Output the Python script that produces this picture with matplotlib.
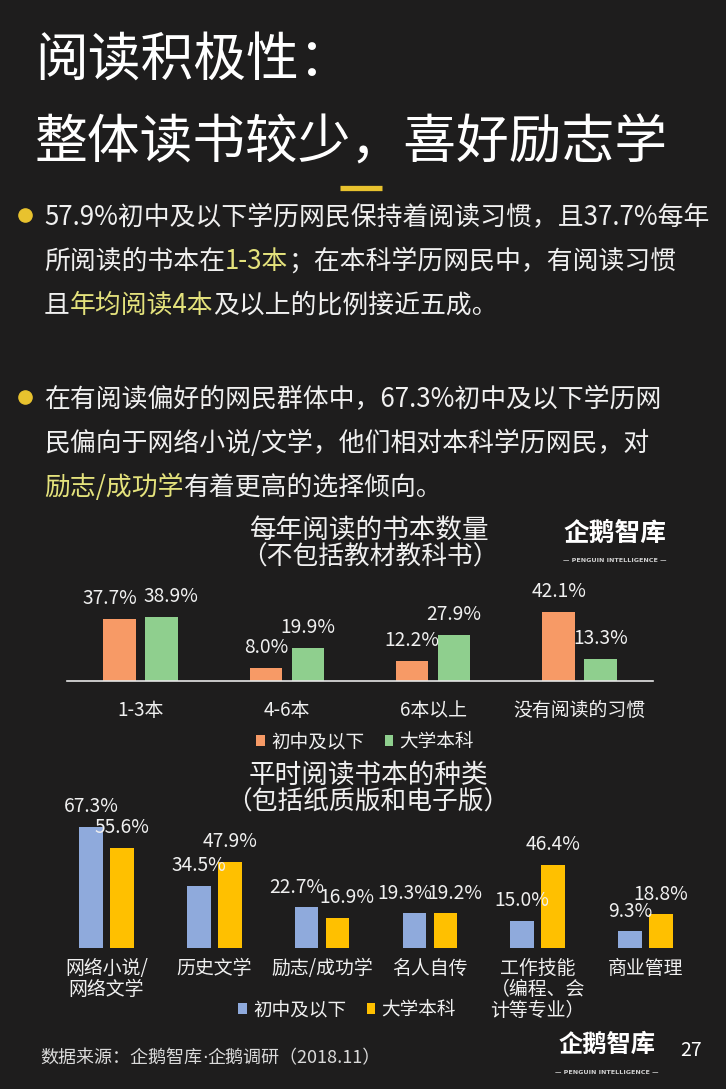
import matplotlib
matplotlib.use("Agg")
import matplotlib.pyplot as plt
from matplotlib.lines import Line2D
import numpy as np

plt.rcParams["font.family"] = ["Noto Sans CJK SC", "DejaVu Sans"]

W, H = 726, 1089
BG = "#1e1d1d"
WHITE = "#f0f0f0"
SOFT = "#dadada"
HILITE = "#e4e27c"
GOLD = "#e8c22e"
ORANGE = "#f79a66"
GREEN = "#8fcf8e"
BLUE = "#8faadc"
YELLOW = "#ffc000"

# --- chart 1: books read per year (excluding textbooks) ---
count_cats = ["1-3本", "4-6本", "6本以上", "没有阅读的习惯"]
count_junior = [37.7, 8.0, 12.2, 42.1]
count_college = [38.9, 19.9, 27.9, 13.3]

# --- chart 2: kinds of books read (paper + e-book) ---
genre_cats = ["网络小说/\n网络文学", "历史文学", "励志/成功学", "名人自传",
              "工作技能\n（编程、会\n计等专业）", "商业管理"]
genre_junior = [67.3, 34.5, 22.7, 19.3, 15.0, 9.3]
genre_college = [55.6, 47.9, 16.9, 19.2, 46.4, 18.8]

series_names = ["初中及以下", "大学本科"]

title_lines = ["阅读积极性：", "整体读书较少，喜好励志学"]
bullet1 = [
    [("57.9%初中及以下学历网民保持着阅读习惯，且37.7%每年", WHITE)],
    [("所阅读的书本在", WHITE), ("1-3本", HILITE), ("；在本科学历网民中，有阅读习惯", WHITE)],
    [("且", WHITE), ("年均阅读4本", HILITE), ("及以上的比例接近五成。", WHITE)],
]
bullet2 = [
    [("在有阅读偏好的网民群体中，67.3%初中及以下学历网", WHITE)],
    [("民偏向于网络小说/文学，他们相对本科学历网民，对", WHITE)],
    [("励志/成功学", HILITE), ("有着更高的选择倾向。", WHITE)],
]
source = [("数据来源：企鹅智库", None), ("·", "DejaVu Sans"), ("企鹅调研（2018.11）", None)]


def fx(x):
    return x / W


def fy(y):
    return 1 - y / H


def add_axes(left, right, top, bottom):
    return fig.add_axes([fx(left), fy(bottom), (right - left) / W, (bottom - top) / H])


def draw_runs(x, y, runs, size, family=None):
    # lay coloured pieces of one line side by side
    r = fig.canvas.get_renderer()
    for txt, col in runs:
        kw = {"family": family} if family else {}
        t = fig.text(fx(x), fy(y), txt, color=col, fontsize=size, ha="left", va="center", **kw)
        x += t.get_window_extent(r).width


def grouped_bars(ax, cats, junior, college, colors, width, dx, px_per_unit, nudge, size):
    x = np.arange(len(cats))
    b1 = ax.bar(x - dx, junior, width, color=colors[0], label=series_names[0])
    b2 = ax.bar(x + dx, college, width, color=colors[1], label=series_names[1])
    for xi, a, b in zip(x, junior, college):
        # push the two labels apart when they would sit at the same height
        n = nudge if abs(a - b) * px_per_unit < 16 else 0
        for val, sx, sgn in ((a, xi - dx, -1), (b, xi + dx, 1)):
            ax.annotate(f"{val:.1f}%", (sx, val), xytext=(sgn * n, 14.5),
                        textcoords="offset points", ha="center", va="center",
                        color=WHITE, fontsize=size, fontweight="light")
    ax.set_xlim(-0.5, len(cats) - 0.5)
    ax.set_facecolor("none")
    ax.set_yticks([])
    for s in ax.spines.values():
        s.set_visible(False)
    return b1, b2


fig = plt.figure(figsize=(W / 100, H / 100), dpi=100)
fig.patch.set_facecolor(BG)

# headline
fig.text(fx(35), fy(61), title_lines[0], color="white", fontsize=38, ha="left", va="center",
         fontweight="light")
fig.text(fx(35), fy(143), title_lines[1], color="white", fontsize=38, ha="left", va="center",
         fontweight="light")
fig.add_artist(Line2D([fx(340), fx(382)], [fy(188), fy(188)], color=GOLD, lw=3.8,
                      solid_capstyle="butt", transform=fig.transFigure))

# bullet paragraphs
for lines, y0 in ((bullet1, 218), (bullet2, 400)):
    fig.add_artist(Line2D([fx(25)], [fy(y0 - 3)], marker="o", ms=9.5, color=GOLD, lw=0,
                          transform=fig.transFigure))
    for i, runs in enumerate(lines):
        draw_runs(44, y0 + i * 43.5, runs, 18.6)

# chart 1
ax1 = add_axes(67.3, 652.7, 570, 680.7)
ax1.set_ylim(0, (680.7 - 570) / 1.637)
b1, b2 = grouped_bars(ax1, count_cats, count_junior, count_college, (ORANGE, GREEN),
                      0.222, 0.143, 1.637, 7, 13.8)
ax1.spines["bottom"].set_visible(True)
ax1.spines["bottom"].set_color("#e6e6e6")
ax1.spines["bottom"].set_linewidth(1.2)
ax1.set_xticks(np.arange(len(count_cats)), count_cats)
ax1.tick_params(axis="x", length=0, pad=14, labelsize=13.6, labelcolor=WHITE)
ax1.legend(handles=[b1, b2], loc="center", bbox_to_anchor=(fx(365), fy(742)),
           bbox_transform=fig.transFigure, ncol=2, frameon=False, fontsize=13.4,
           labelcolor=WHITE, handlelength=0.48, handleheight=0.48, handletextpad=0.3,
           columnspacing=1.1, borderpad=0)
fig.text(fx(370), fy(530), "每年阅读的书本数量", color=WHITE, fontsize=19.2, ha="center", va="center")
fig.text(fx(370), fy(558), "（不包括教材教科书）", color=WHITE, fontsize=18.5, ha="center", va="center")

# chart 2
ax2 = add_axes(52.6, 699.4, 815, 948)
ax2.set_ylim(0, (948 - 815) / 1.798)
b3, b4 = grouped_bars(ax2, genre_cats, genre_junior, genre_college, (BLUE, YELLOW),
                      0.22, 0.144, 1.798, 7, 13.8)
ax2.set_xticks(np.arange(len(genre_cats)), genre_cats)
ax2.tick_params(axis="x", length=0, pad=7, labelsize=13.6, labelcolor=WHITE)
for lab in ax2.get_xticklabels():
    lab.set_linespacing(1.0)
ax2.legend(handles=[b3, b4], loc="center", bbox_to_anchor=(fx(347), fy(1010)),
           bbox_transform=fig.transFigure, ncol=2, frameon=False, fontsize=13.4,
           labelcolor=WHITE, handlelength=0.48, handleheight=0.48, handletextpad=0.3,
           columnspacing=1.1, borderpad=0)
fig.text(fx(368), fy(775), "平时阅读书本的种类", color=WHITE, fontsize=19.2, ha="center", va="center")
fig.text(fx(368), fy(803), "（包括纸质版和电子版）", color=WHITE, fontsize=18.5, ha="center", va="center")

# brand marks, source, page number
for cx, cy, sz in ((615, 533, 18.5), (607, 1045, 17.5)):
    fig.text(fx(cx), fy(cy), "企鹅智库", color="white", fontsize=sz, fontweight="bold",
             ha="center", va="center")
    fig.text(fx(cx), fy(cy + 27), "— PENGUIN INTELLIGENCE —", color="#d0d0d0", fontsize=4.6,
             fontweight="bold", ha="center", va="center", family="DejaVu Sans")
x_src = 40
r = fig.canvas.get_renderer()
for txt, fam in source:
    kw = {"family": fam} if fam else {}
    t = fig.text(fx(x_src), fy(1058), txt, color=SOFT, fontsize=13, ha="left", va="center", **kw)
    x_src += t.get_window_extent(r).width
fig.text(fx(691), fy(1051), "27", color="white", fontsize=14, ha="center", va="center")

fig.savefig("out.png", dpi=100, facecolor=BG)
